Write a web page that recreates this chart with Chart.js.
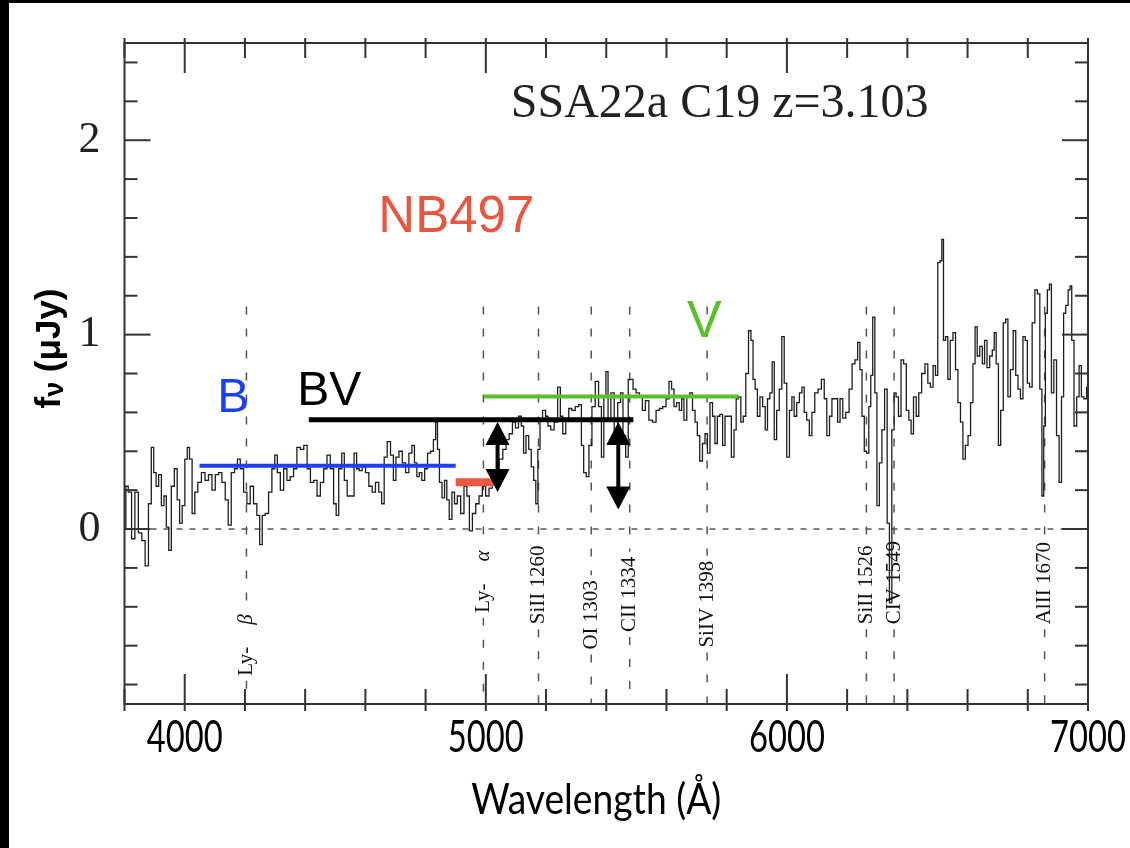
<!DOCTYPE html>
<html>
<head>
<meta charset="utf-8">
<script src="https://cdn.jsdelivr.net/npm/chart.js@4.4.1/dist/chart.umd.min.js"></script>
<style>
 html, body { margin: 0; padding: 0; background: #fff; }
 #wrap { width: 1130px; height: 848px; }
</style>
</head>
<body>
<div id="wrap"><canvas id="spec" width="1130" height="848"></canvas></div>
<script>
// spectrum (Å, µJy)
const wavelength = [
 3802, 3807, 3818, 3829, 3840, 3852, 3863, 3874, 3885, 3893, 3901, 3909, 3918, 3927, 3935, 3943, 3951, 3960, 3971, 3979,
 3987, 3996, 4005, 4012, 4020, 4029, 4038, 4049, 4062, 4073, 4085, 4096, 4107, 4118, 4129, 4140, 4149, 4160, 4171, 4179,
 4190, 4201, 4212, 4223, 4234, 4245, 4253, 4262, 4273, 4284, 4295, 4303, 4312, 4323, 4334, 4345, 4356, 4367, 4378, 4390,
 4401, 4412, 4423, 4434, 4445, 4456, 4467, 4478, 4489, 4500, 4506, 4517, 4526, 4534, 4545, 4558, 4567, 4575,
 4584, 4595, 4606, 4617, 4628, 4639, 4650, 4658, 4667, 4678, 4689, 4697, 4706, 4717, 4728, 4739, 4750, 4759, 4767, 4775,
 4783, 4792, 4802, 4811, 4822, 4830, 4837, 4842, 4850, 4859, 4867, 4874, 4883, 4892, 4900, 4911, 4922, 4933, 4941, 4950,
 4961, 4972, 4983, 4994, 5005, 5016, 5027, 5038, 5050, 5063, 5072, 5083, 5094, 5103, 5114, 5122, 5129, 5138, 5147, 5155,
 5163, 5169, 5177, 5183, 5194, 5203, 5210, 5221, 5233, 5244, 5251, 5260, 5271, 5280, 5291, 5303, 5314, 5321, 5329, 5338,
 5347, 5358, 5369, 5380,
 5388, 5396, 5402, 5410, 5421, 5432, 5444, 5451, 5460, 5469, 5477, 5485, 5493, 5505, 5516, 5524, 5536, 5547, 5560, 5571,
 5582, 5593, 5604, 5613, 5621, 5629, 5638, 5647, 5654, 5662, 5673, 5682, 5691, 5699, 5706, 5715, 5724, 5732, 5740, 5749,
 5757, 5765, 5773, 5782, 5791, 5798, 5810, 5821, 5828, 5835, 5843, 5851, 5859, 5868, 5877, 5884, 5891, 5898, 5906, 5915,
 5924, 5932, 5939, 5948, 5954, 5962, 5970, 5979, 5987, 5995, 6004, 6013, 6020, 6028, 6037, 6046, 6054, 6061, 6070, 6079,
 6087, 6098, 6109, 6120, 6128, 6137, 6146, 6153, 6165, 6172,
 6181, 6190, 6201, 6212, 6221, 6231, 6239, 6246, 6253, 6261, 6268, 6276, 6281, 6289, 6295, 6303, 6311, 6320, 6329, 6337,
 6344, 6353, 6359, 6366, 6375, 6383, 6392, 6401, 6409, 6416, 6425, 6434, 6442, 6453, 6464, 6472, 6481, 6490, 6497, 6505,
 6512, 6517, 6523, 6531, 6538, 6547, 6556, 6564, 6572, 6581, 6588, 6597, 6606, 6614, 6622, 6628, 6636, 6645, 6653, 6660,
 6669, 6678, 6686, 6691, 6699, 6706, 6714, 6723, 6730, 6738, 6747, 6756, 6764, 6771, 6780, 6788, 6795, 6802, 6810, 6819,
 6828, 6836, 6844, 6850, 6856, 6861, 6869, 6875, 6882, 6891, 6900, 6908, 6916, 6922, 6930, 6938, 6943, 6949, 6958, 6967,
 6974, 6982, 6991, 7000
];
const flux = [
 0.00, 0.22, 0.19, -0.05, 0.19, -0.02, -0.06, -0.19, 0.13, 0.42, 0.29, 0.22, 0.28, 0.12, 0.17, 0.01, -0.11, 0.22, 0.31, 0.15,
 0.03, 0.12, 0.36, 0.42, 0.36, 0.08, 0.19, 0.24, 0.29, 0.25, 0.28, 0.20, 0.28, 0.29, 0.24, 0.15, 0.02, 0.29, 0.31, 0.36,
 0.31, 0.19, 0.13, 0.22, 0.13, 0.07, -0.08, 0.07, 0.08, 0.19, 0.31, 0.38, 0.29, 0.20, 0.31, 0.25, 0.27, 0.31, 0.42, 0.41,
 0.43, 0.31, 0.24, 0.25, 0.17, 0.24, 0.31, 0.38, 0.31, 0.13, 0.07, 0.31, 0.39, 0.25, 0.17, 0.17, 0.39, 0.31,
 0.30, 0.32, 0.29, 0.22, 0.19, 0.24, 0.19, 0.13, 0.37, 0.45, 0.38, 0.25, 0.37, 0.40, 0.34, 0.29, 0.39, 0.43, 0.34, 0.27,
 0.29, 0.25, 0.31, 0.39, 0.40, 0.46, 0.55, 0.41, 0.24, 0.16, 0.25, 0.15, 0.05, 0.19, 0.13, 0.17, 0.08, 0.22, 0.17, -0.01,
 0.08, 0.13, 0.17, 0.22, 0.17, 0.21, 0.25, 0.29, 0.36, 0.41, 0.46, 0.49, 0.55, 0.52, 0.58, 0.53, 0.39, 0.48, 0.41, 0.32,
 0.25, 0.13, 0.41, 0.56, 0.61, 0.58, 0.53, 0.51, 0.55, 0.73, 0.58, 0.49, 0.56, 0.62, 0.61, 0.63, 0.64, 0.43, 0.29, 0.27,
 0.43, 0.63, 0.76, 0.63,
 0.37, 0.68, 0.81, 0.56, 0.70, 0.46, 0.65, 0.70, 0.48, 0.37, 0.77, 0.77, 0.72, 0.70, 0.68, 0.61, 0.66, 0.56, 0.55, 0.61,
 0.62, 0.63, 0.67, 0.76, 0.72, 0.63, 0.65, 0.61, 0.67, 0.56, 0.68, 0.70, 0.61, 0.55, 0.48, 0.35, 0.44, 0.49, 0.39, 0.65,
 0.58, 0.44, 0.58, 0.59, 0.43, 0.58, 0.58, 0.37, 0.51, 0.67, 0.68, 0.55, 0.58, 0.80, 1.02, 0.97, 0.77, 0.72, 0.58, 0.68,
 0.63, 0.51, 0.67, 0.70, 0.86, 0.46, 0.61, 0.72, 0.99, 0.75, 0.37, 0.61, 0.68, 0.58, 0.65, 0.70, 0.73, 0.60, 0.56, 0.48,
 0.60, 0.70, 0.72, 0.77, 0.67, 0.48, 0.58, 0.67, 0.67, 0.55,
 0.67, 0.57, 0.60, 0.72, 0.85, 0.87, 0.96, 0.82, 0.58, 0.40, 0.39, 0.63, 0.79, 1.09, 0.70, 0.12, 0.34, 0.51, 0.72, 0.03,
 -0.38, 0.51, 0.70, 0.68, 0.58, 0.87, 0.85, 0.61, 0.56, 0.49, 0.68, 0.58, 0.70, 0.80, 0.85, 0.75, 0.73, 0.84, 0.79, 1.37,
 1.38, 1.49, 0.97, 0.99, 0.77, 0.97, 1.01, 0.82, 0.65, 0.55, 0.36, 0.43, 0.48, 0.65, 0.85, 1.04, 0.89, 0.94, 0.85, 0.97,
 0.83, 0.89, 0.92, 1.01, 0.85, 0.43, 0.61, 1.06, 1.08, 0.68, 0.82, 1.02, 0.79, 0.72, 0.67, 0.99, 0.97, 0.75, 0.73, 1.06,
 1.23, 1.21, 0.72, 0.17, 0.53, 1.11, 1.23, 1.26, 0.70, 0.87, 0.48, 0.24, 0.68, 1.11, 1.15, 1.23, 1.25, 0.97, 0.53, 0.68,
 0.84, 0.68, 0.67, 0.73
];

const xTicks = [4000, 5000, 6000, 7000];
const yTicks = [0, 1, 2];

// identified lines (observed Å) and where each rotated label starts (µJy)
const featureWl = [4205, 4992, 5175, 5350, 5478, 5735, 6264, 6356, 6856];
const featureNames = ['Ly-β', 'Ly-α', 'SiII 1260', 'OI 1303', 'CII 1334', 'SiIV 1398', 'SiII 1526', 'CIV 1549', 'AlII 1670'];
const featureLabelFlux = [-0.755, -0.43, -0.49, -0.62, -0.53, -0.61, -0.49, -0.49, -0.49];
const featureTopFlux = 1.145;

// filter bands: start, end, level
const bandNames = ['B', 'BV', 'V', 'NB497'];
const bandStart = [4049, 4412, 4994, 4900];
const bandEnd = [4900, 5490, 5840, 5027];
const bandFlux = [0.325, 0.562, 0.682, 0.24];

// double arrows
const arrowWl = [5039, 5440];
const arrowTop = [0.55, 0.55];
const arrowBottom = [0.19, 0.10];

const bandStyle = {
 B: { color: '#1c3ff0', width: 4 },
 BV: { color: '#000000', width: 5 },
 V: { color: '#5abf2c', width: 4 },
 NB497: { color: '#ec5842', width: 8 },
};

// free text, anchored in data units (left edge, baseline)
const notes = [
 { text: 'SSA22a C19 z=3.103', x: 5083, y: 2.12, font: '48px "Liberation Serif"', color: '#222' },
 { text: 'NB497', x: 4643, y: 1.529, font: '51px "Liberation Sans"', color: '#e9553f' },
 { text: 'B', x: 4108, y: 0.603, font: '48px "Liberation Sans"', color: '#1c3ff0' },
 { text: 'BV', x: 4374, y: 0.639, font: '48px "Liberation Sans"', color: '#000' },
 { text: 'V', x: 5668, y: 0.989, font: '52px "Liberation Sans"', color: '#5abf2c' },
];

const labelFont = '21px "Liberation Serif"';
const greekFont = 'italic 21px "Liberation Serif"';

function line(ctx, x1, y1, x2, y2) {
 ctx.beginPath();
 ctx.moveTo(x1, y1);
 ctx.lineTo(x2, y2);
 ctx.stroke();
}

// draw text squeezed to a target width (the original axis font is a narrow sans)
function narrowText(ctx, text, cx, baseline, width) {
 const w = ctx.measureText(text).width;
 ctx.save();
 ctx.translate(cx, baseline);
 ctx.scale(width / w, 1);
 ctx.textAlign = 'center';
 ctx.textBaseline = 'alphabetic';
 ctx.fillText(text, 0, 0);
 ctx.restore();
}

// "Ly-α" style names: roman prefix, gap, italic greek letter
function splitGreek(name) {
 const last = name.slice(-1);
 if (/[α-ω]/.test(last)) return [name.slice(0, -1), last];
 return [name, null];
}

const paper = {
 id: 'paper',
 beforeDraw(chart) {
 const { ctx, width, height } = chart;
 ctx.save();
 ctx.fillStyle = '#fff';
 ctx.fillRect(0, 0, width, height);
 ctx.fillStyle = '#000';
 ctx.fillRect(0, 0, width, 3);
 ctx.fillRect(0, 0, 9, height);
 ctx.restore();
 },
 beforeDatasetsDraw(chart) {
 const { ctx, chartArea: a, scales: { x, y } } = chart;
 ctx.save();
 ctx.strokeStyle = '#555';
 ctx.fillStyle = '#111';
 ctx.lineWidth = 1.5;
 featureWl.forEach((w, i) => {
 const px = x.getPixelForValue(w);
 const top = y.getPixelForValue(featureTopFlux);
 const start = y.getPixelForValue(featureLabelFlux[i]);
 const [roman, greek] = splitGreek(featureNames[i]);
 ctx.font = labelFont;
 const wr = ctx.measureText(roman).width;
 ctx.font = greekFont;
 const wg = greek ? ctx.measureText(greek).width + 22 : 0;
 ctx.setLineDash([8, 14]);
 line(ctx, px, top, px, start - wr - wg - 5);
 line(ctx, px, start + 5, px, a.bottom);
 ctx.setLineDash([]);
 ctx.save();
 ctx.translate(px, start);
 ctx.rotate(-Math.PI / 2);
 ctx.textAlign = 'left';
 ctx.textBaseline = 'middle';
 ctx.font = labelFont;
 ctx.fillText(roman, 0, 0);
 if (greek) {
 ctx.font = greekFont;
 ctx.fillText(greek, wr + 22, 0);
 }
 ctx.restore();
 });
 ctx.restore();
 },
 afterDraw(chart) {
 const { ctx, chartArea: a, scales: { x, y } } = chart;
 ctx.save();

 // frame + inward ticks on all four sides
 ctx.strokeStyle = '#333';
 ctx.lineWidth = 2;
 for (let v = 3800; v <= 7000; v += 200) {
 const px = x.getPixelForValue(v);
 const L = v % 1000 === 0 ? 30 : 15;
 line(ctx, px, a.bottom + 7, px, a.bottom - L);
 line(ctx, px, a.top - 5, px, a.top + L);
 }
 for (let k = -4; k <= 12; k++) {
 const py = y.getPixelForValue(k * 0.2);
 const L = k % 5 === 0 ? 26 : 13;
 line(ctx, a.left, py, a.left + L, py);
 line(ctx, a.right, py, a.right - L, py);
 }
 ctx.strokeRect(a.left, a.top, a.right - a.left, a.bottom - a.top);

 // x tick labels and title in a narrow sans
 ctx.fillStyle = '#000';
 ctx.font = '44px Lato, "Liberation Sans"';
 x.ticks.forEach(t => narrowText(ctx, String(t.value), x.getPixelForValue(t.value), a.bottom + 48, 76));
 ctx.font = '42px Lato, "Liberation Sans"';
 narrowText(ctx, 'Wavelength (Å)', (a.left + a.right) / 2 - 10, a.bottom + 110, 250);

 // arrows
 ctx.fillStyle = '#000';
 ctx.strokeStyle = '#000';
 ctx.lineWidth = 4;
 arrowWl.forEach((w, i) => {
 const px = x.getPixelForValue(w);
 const t = y.getPixelForValue(arrowTop[i]);
 const b = y.getPixelForValue(arrowBottom[i]);
 line(ctx, px, t + 15, px, b - 15);
 ctx.beginPath();
 ctx.moveTo(px, t); ctx.lineTo(px - 12, t + 23); ctx.lineTo(px + 12, t + 23); ctx.closePath(); ctx.fill();
 ctx.beginPath();
 ctx.moveTo(px, b); ctx.lineTo(px - 12, b - 23); ctx.lineTo(px + 12, b - 23); ctx.closePath(); ctx.fill();
 });

 // free text
 ctx.textAlign = 'left';
 ctx.textBaseline = 'alphabetic';
 notes.forEach(n => {
 ctx.font = n.font;
 ctx.fillStyle = n.color;
 ctx.fillText(n.text, x.getPixelForValue(n.x), y.getPixelForValue(n.y));
 });

 // y title: f_nu (uJy)
 ctx.save();
 ctx.translate(50, (a.top + a.bottom) / 2 - 25);
 ctx.rotate(-Math.PI / 2);
 ctx.fillStyle = '#000';
 ctx.textBaseline = 'middle';
 const big = 'bold 35px "Liberation Sans"';
 const small = 'bold 27px "Liberation Sans"';
 ctx.font = big; const wf = ctx.measureText('f').width;
 ctx.font = small; const wn = ctx.measureText('ν').width;
 ctx.font = big; const wr = ctx.measureText(' (μJy)').width;
 let cx = -(wf + wn + wr) / 2;
 ctx.font = big; ctx.fillText('f', cx, 0); cx += wf;
 ctx.font = small; ctx.fillText('ν', cx, 6); cx += wn;
 ctx.font = big; ctx.fillText(' (μJy)', cx, 0);
 ctx.restore();

 ctx.restore();
 },
};

const bandSets = bandNames.map((name, i) => ({
 label: name,
 data: [{ x: bandStart[i], y: bandFlux[i] }, { x: bandEnd[i], y: bandFlux[i] }],
 borderColor: bandStyle[name].color,
 borderWidth: bandStyle[name].width,
 pointRadius: 0,
 borderCapStyle: 'butt',
 order: 1,
}));

new Chart(document.getElementById('spec'), {
 type: 'line',
 data: {
 datasets: [
 ...bandSets,
 {
 label: 'spectrum',
 data: wavelength.map((w, i) => ({ x: w, y: flux[i] })),
 borderColor: '#1e1e1e',
 borderWidth: 1.3,
 pointRadius: 0,
 stepped: 'middle',
 order: 5,
 },
 {
 label: 'zero',
 data: [{ x: 3800, y: 0 }, { x: 7000, y: 0 }],
 borderColor: '#555',
 borderWidth: 1.5,
 borderDash: [6, 7],
 pointRadius: 0,
 order: 6,
 },
 ],
 },
 options: {
 responsive: false,
 animation: false,
 events: [],
 layout: { padding: { top: 43, right: 42, left: 0, bottom: 0 } },
 plugins: { legend: { display: false }, tooltip: { enabled: false } },
 scales: {
 x: {
 type: 'linear',
 min: 3800,
 max: 7000,
 afterBuildTicks: s => { s.ticks = xTicks.map(v => ({ value: v })); },
 afterFit: s => { s.height = 144; s.paddingLeft = 0; s.paddingRight = 0; },
 grid: { display: false, drawTicks: false },
 border: { display: false },
 ticks: { display: false },
 },
 y: {
 type: 'linear',
 min: -0.9,
 max: 2.5,
 afterBuildTicks: s => { s.ticks = yTicks.map(v => ({ value: v })); },
 afterFit: s => { s.width = 124.5; s.paddingTop = 0; s.paddingBottom = 0; },
 grid: { display: false, drawTicks: false },
 border: { display: false },
 ticks: { color: '#222', padding: 24, font: { family: '"Liberation Serif"', size: 44 } },
 },
 },
 },
 plugins: [paper],
});
</script>
</body>
</html>
